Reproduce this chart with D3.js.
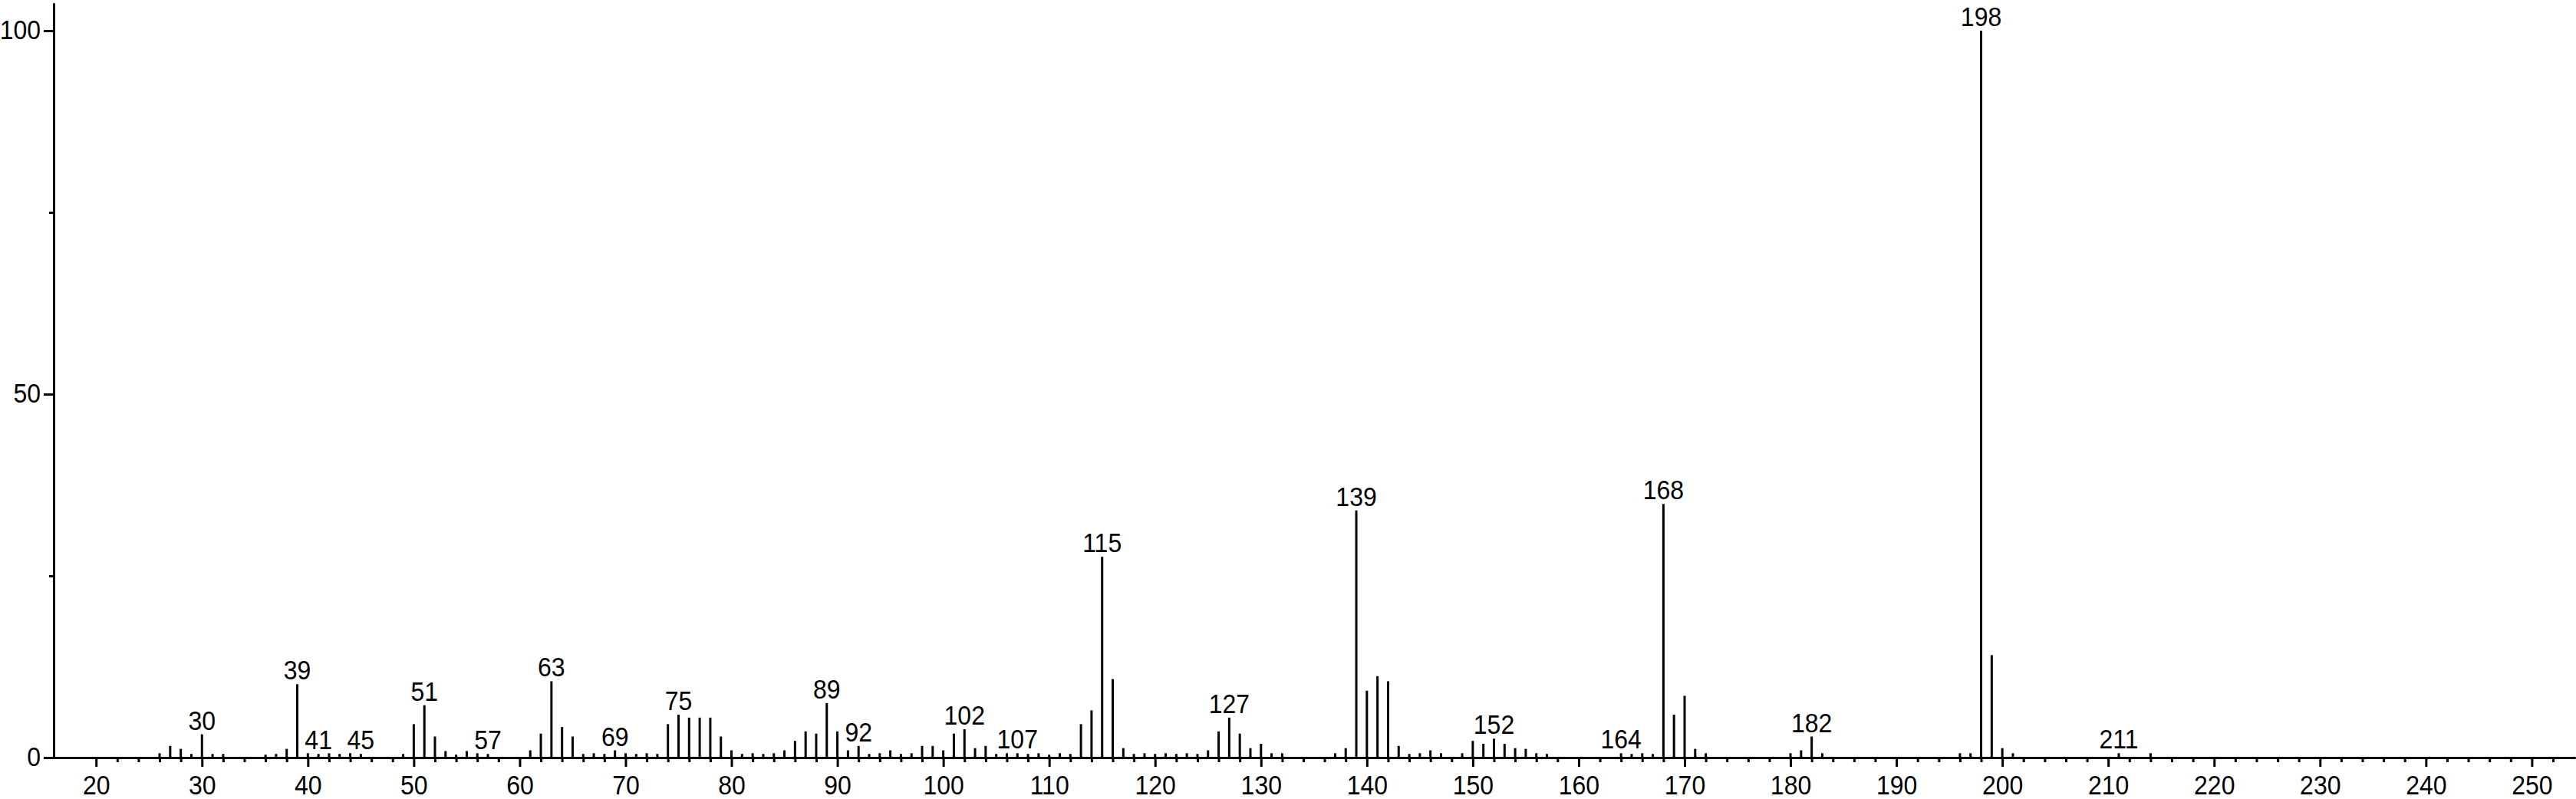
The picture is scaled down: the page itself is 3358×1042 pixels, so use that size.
<!DOCTYPE html>
<html>
<head>
<meta charset="utf-8">
<script src="https://cdn.jsdelivr.net/npm/d3@7"></script>
<style>
html, body { margin: 0; padding: 0; background: #fff; }
svg { display: block; }
text { font-family: "Liberation Sans", Arial, Helvetica, sans-serif; fill: #000; }
</style>
</head>
<body>
<script>
// m/z values and relative intensities (%)
const mz = [26,27,28,29,30,31,32,36,37,38,39,40,41,42,43,44,45,49,50,51,52,53,54,55,56,57,
  61,62,63,64,65,66,67,68,69,70,71,72,73,74,75,76,77,78,79,80,81,82,83,84,85,86,87,88,89,90,
  91,92,93,94,95,96,97,98,99,100,101,102,103,104,105,106,107,108,109,110,111,112,113,114,115,116,117,
  118,119,120,121,122,123,124,125,126,127,128,129,130,131,132,137,138,139,140,141,142,143,144,145,146,147,
  149,150,151,152,153,154,155,156,157,164,165,166,167,168,169,170,171,172,180,181,182,183,
  196,197,198,199,200,201,211,214];
const intensity = [0.6,1.6,1.2,0.5,3.2,0.5,0.5,0.4,0.5,1.2,10.1,0.6,0.5,0.6,0.5,0.6,0.5,0.5,4.6,7.2,2.9,0.9,0.4,0.9,0.6,0.5,
  1.0,3.3,10.5,4.2,2.9,0.5,0.6,0.5,1.0,0.6,0.5,0.6,0.5,4.6,5.9,5.5,5.5,5.5,2.9,1.0,0.5,0.6,0.5,0.6,1.0,2.3,3.6,3.3,7.5,3.6,
  1.0,1.6,0.5,0.6,1.0,0.5,0.6,1.6,1.6,1.0,3.3,3.9,1.3,1.6,0.5,0.6,0.6,0.5,0.6,0.4,0.6,0.5,4.6,6.5,27.6,10.8,1.3,
  0.5,0.6,0.5,0.6,0.5,0.6,0.5,1.0,3.6,5.5,3.3,1.3,1.9,0.6,0.6,0.6,1.3,34.0,9.2,11.2,10.5,1.6,0.5,0.6,1.0,0.6,
  0.6,2.3,1.9,2.6,1.9,1.3,1.2,0.6,0.5,0.6,0.5,0.6,0.5,34.9,5.9,8.5,1.2,0.6,0.6,1.0,2.9,0.6,
  0.6,0.6,100,14.1,1.3,0.6,0.6,0.6];
// peaks that carry an m/z label
const labeledPeaks = [30,39,41,45,51,57,63,69,75,89,92,102,107,115,127,139,152,164,168,182,198,211];
// axis ticks
const xMajorTicks = d3.range(20, 251, 10);
const xMinorTicks = d3.range(22, 254, 2).filter(v => v % 10 !== 0);
const yMajorTicks = [0, 50, 100];
const yMinorTicks = [25, 75];

const W = 3358, H = 1042;
const svg = d3.select("body").append("svg").attr("width", W).attr("height", H);

const x = d3.scaleLinear().domain([16, 254.1]).range([70, 3357]);
const y = d3.scaleLinear().domain([0, 100]).range([988, 40]);
const yTop = 4;

const fs = 32;
const stretch = "scale(1,1.07)";

// bars
const data = mz.map((m, i) => ({ m, v: intensity[i] }));
svg.append("g").selectAll("line").data(data).join("line")
  .attr("x1", d => x(d.m)).attr("x2", d => x(d.m))
  .attr("y1", y(0)).attr("y2", d => y(d.v))
  .attr("stroke", "#000").attr("stroke-width", 3);

// x axis
const gx = svg.append("g").attr("transform", `translate(0,${y(0)})`);
gx.call(d3.axisBottom(x).tickValues(xMajorTicks).tickSize(12).tickSizeOuter(0).tickPadding(10).tickFormat(d3.format("d")));
gx.append("g").call(d3.axisBottom(x).tickValues(xMinorTicks).tickSize(6).tickSizeOuter(0).tickFormat(""));
gx.selectAll(".domain").attr("stroke-width", 3).attr("stroke", "#000");
gx.selectAll(".tick line").attr("stroke-width", 3).attr("stroke", "#000");
gx.selectAll(".tick text").attr("font-size", fs).attr("font-family", "Liberation Sans, Arial, sans-serif").attr("fill", "#000").attr("transform", stretch);

// y axis
const yAxisScale = y.copy().domain([0, y.invert(yTop)]).range([y(0), yTop]);
const gy = svg.append("g").attr("transform", `translate(${x(16)},0)`);
gy.call(d3.axisLeft(yAxisScale).tickValues(yMajorTicks).tickSize(13).tickSizeOuter(0).tickPadding(4).tickFormat(d3.format("d")));
gy.append("g").call(d3.axisLeft(yAxisScale).tickValues(yMinorTicks).tickSize(6).tickSizeOuter(0).tickFormat(""));
gy.selectAll(".domain").attr("stroke-width", 3).attr("stroke", "#000");
gy.selectAll(".tick line").attr("stroke-width", 3).attr("stroke", "#000");
gy.selectAll(".tick text").attr("font-size", fs).attr("font-family", "Liberation Sans, Arial, sans-serif").attr("fill", "#000").attr("transform", stretch);

// peak labels
const labelData = data.filter(d => labeledPeaks.includes(d.m));
svg.append("g").selectAll("text").data(labelData).join("text")
  .attr("transform", d => `translate(${x(d.m)},${y(d.v) - 6}) ${stretch}`)
  .attr("text-anchor", "middle").attr("font-size", fs)
  .text(d => d.m);
</script>
</body>
</html>
